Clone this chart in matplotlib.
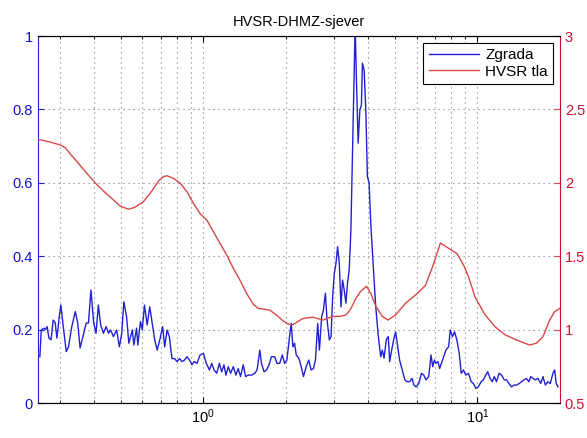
import numpy as np
import matplotlib
matplotlib.use('Agg')
import matplotlib.pyplot as plt
from matplotlib.ticker import LogLocator, NullFormatter

plt.rcParams['font.family'] = ['Liberation Sans', 'DejaVu Sans']

# Zgrada (building) spectral ratio, left axis
freq_zgrada = [0.254, 0.257, 0.263, 0.266, 0.270, 0.274, 0.279, 0.284, 0.289, 0.293,
               0.300, 0.303, 0.310, 0.317, 0.323, 0.332, 0.342, 0.349, 0.356, 0.367,
               0.375, 0.382, 0.390, 0.399, 0.407, 0.415, 0.423, 0.433, 0.443, 0.452,
               0.460, 0.471, 0.484, 0.495, 0.505, 0.514, 0.526, 0.536, 0.552, 0.559,
               0.572, 0.578, 0.591, 0.600, 0.611, 0.625, 0.639, 0.652, 0.666, 0.680,
               0.695, 0.712, 0.724, 0.739, 0.753, 0.770, 0.787, 0.803, 0.821, 0.837,
               0.856, 0.873, 0.892, 0.910, 0.928, 0.949, 0.975, 1.003, 1.025, 1.054,
               1.075, 1.096, 1.121, 1.146, 1.169, 1.191, 1.211, 1.235, 1.260, 1.288,
               1.317, 1.342, 1.369, 1.400, 1.428, 1.459, 1.501, 1.543, 1.573, 1.609,
               1.632, 1.668, 1.702, 1.739, 1.774, 1.824, 1.859, 1.901, 1.944, 1.982,
               2.020, 2.066, 2.096, 2.124, 2.154, 2.185, 2.233, 2.278, 2.322, 2.375,
               2.427, 2.476, 2.524, 2.567, 2.617, 2.654, 2.705, 2.744, 2.791, 2.830,
               2.885, 2.926, 2.966, 3.008, 3.051, 3.092, 3.136, 3.181, 3.223, 3.269,
               3.316, 3.360, 3.408, 3.457, 3.503, 3.553, 3.583, 3.622, 3.674, 3.727,
               3.777, 3.808, 3.864, 3.918, 3.971, 4.028, 4.085, 4.165, 4.259, 4.353,
               4.441, 4.501, 4.565, 4.653, 4.732, 4.787, 4.868, 4.962, 5.033, 5.100,
               5.203, 5.317, 5.438, 5.543, 5.655, 5.780, 5.862, 5.975, 6.111, 6.252,
               6.373, 6.496, 6.644, 6.773, 6.871, 6.968, 7.062, 7.181, 7.283, 7.387,
               7.530, 7.675, 7.851, 7.963, 8.117, 8.254, 8.414, 8.584, 8.728, 8.896,
               9.070, 9.277, 9.488, 9.672, 9.858, 10.08, 10.31, 10.51, 10.72, 10.90,
               11.12, 11.33, 11.52, 11.74, 11.99, 12.25, 12.53, 12.77, 13.03, 13.31,
               13.62, 13.88, 14.20, 14.47, 14.76, 15.09, 15.39, 15.65, 15.96, 16.26,
               16.63, 17.01, 17.34, 17.68, 18.08, 18.43, 18.85, 19.12, 19.38, 19.66]
amp_zgrada = [0.126, 0.199, 0.204, 0.200, 0.208, 0.177, 0.172, 0.226, 0.218, 0.177,
              0.245, 0.267, 0.200, 0.140, 0.153, 0.208, 0.249, 0.218, 0.150, 0.190,
              0.218, 0.218, 0.308, 0.218, 0.190, 0.267, 0.213, 0.190, 0.208, 0.190,
              0.199, 0.181, 0.199, 0.153, 0.190, 0.276, 0.235, 0.163, 0.199, 0.158,
              0.204, 0.158, 0.222, 0.199, 0.267, 0.213, 0.262, 0.218, 0.172, 0.144,
              0.172, 0.208, 0.153, 0.199, 0.181, 0.121, 0.121, 0.113, 0.121, 0.113,
              0.117, 0.126, 0.117, 0.104, 0.113, 0.108, 0.131, 0.135, 0.110, 0.090,
              0.108, 0.090, 0.081, 0.108, 0.085, 0.104, 0.076, 0.099, 0.081, 0.099,
              0.076, 0.094, 0.072, 0.104, 0.072, 0.076, 0.076, 0.081, 0.090, 0.144,
              0.108, 0.085, 0.090, 0.104, 0.126, 0.126, 0.108, 0.108, 0.131, 0.108,
              0.117, 0.181, 0.217, 0.153, 0.163, 0.131, 0.122, 0.099, 0.072, 0.099,
              0.117, 0.090, 0.094, 0.117, 0.217, 0.144, 0.235, 0.253, 0.299, 0.226,
              0.172, 0.181, 0.290, 0.353, 0.381, 0.426, 0.381, 0.262, 0.335, 0.308,
              0.272, 0.326, 0.362, 0.471, 0.671, 0.898, 1.030, 0.880, 0.708, 0.798,
              0.812, 0.926, 0.907, 0.798, 0.617, 0.599, 0.490, 0.381, 0.262, 0.181,
              0.126, 0.144, 0.122, 0.172, 0.181, 0.113, 0.144, 0.176, 0.194, 0.163,
              0.117, 0.090, 0.063, 0.058, 0.058, 0.067, 0.049, 0.044, 0.053, 0.081,
              0.076, 0.063, 0.072, 0.131, 0.099, 0.117, 0.108, 0.113, 0.094, 0.108,
              0.126, 0.144, 0.153, 0.199, 0.181, 0.194, 0.172, 0.135, 0.081, 0.090,
              0.076, 0.081, 0.058, 0.053, 0.040, 0.044, 0.058, 0.063, 0.076, 0.085,
              0.067, 0.058, 0.072, 0.058, 0.081, 0.076, 0.063, 0.063, 0.053, 0.044,
              0.049, 0.049, 0.053, 0.058, 0.063, 0.067, 0.058, 0.072, 0.067, 0.063,
              0.067, 0.053, 0.072, 0.049, 0.058, 0.053, 0.081, 0.090, 0.053, 0.044]

# HVSR tla (ground), right axis
freq_tlo = [0.25, 0.274, 0.302, 0.314, 0.328, 0.347, 0.377, 0.404, 0.433, 0.464,
            0.498, 0.534, 0.564, 0.605, 0.648, 0.685, 0.715, 0.739, 0.781, 0.825,
            0.873, 0.922, 0.975, 1.031, 1.090, 1.152, 1.219, 1.288, 1.361, 1.440,
            1.521, 1.586, 1.654, 1.749, 1.849, 1.954, 2.038, 2.124, 2.215, 2.309,
            2.509, 2.73, 2.97, 3.16, 3.32, 3.45, 3.60, 3.75, 3.94, 4.10,
            4.26, 4.50, 4.72, 5.03, 5.47, 5.95, 6.46, 6.93, 7.33, 7.85,
            8.41, 8.90, 9.28, 9.81, 10.67, 11.59, 12.60, 13.88, 14.89, 15.52,
            16.40, 17.34, 18.34, 19.12, 20.0]
hvsr_tlo = [2.296, 2.28, 2.257, 2.24, 2.196, 2.144, 2.064, 2.00, 1.944, 1.894,
            1.842, 1.82, 1.833, 1.871, 1.94, 2.008, 2.042, 2.048, 2.03, 1.997,
            1.94, 1.86, 1.79, 1.747, 1.667, 1.588, 1.508, 1.418, 1.338, 1.247,
            1.174, 1.145, 1.14, 1.133, 1.10, 1.06, 1.038, 1.033, 1.055, 1.075,
            1.085, 1.065, 1.09, 1.09, 1.10, 1.14, 1.21, 1.26, 1.295, 1.24,
            1.16, 1.09, 1.065, 1.10, 1.18, 1.236, 1.30, 1.45, 1.59, 1.554,
            1.52, 1.44, 1.36, 1.22, 1.10, 1.02, 0.965, 0.93, 0.907, 0.895,
            0.907, 0.952, 1.065, 1.122, 1.145]

blue = '#2020d4'
red = '#d84848'
blue_txt = '#1010d0'
red_txt = '#d0102e'

fig = plt.figure(figsize=(5.87, 4.38), dpi=100)
ax1 = fig.add_axes([0.0647, 0.0799, 0.8893, 0.8379])
ax2 = ax1.twinx()

l1, = ax1.semilogx(freq_zgrada, amp_zgrada, color=blue, lw=1.0, label='Zgrada')
l2, = ax2.semilogx(freq_tlo, hvsr_tlo, color=red, lw=1.0, label='HVSR tla')

ax1.set_xlim(0.25, 20)
ax1.set_ylim(0, 1)
ax2.set_ylim(0.5, 3)
ax1.set_yticks([0, 0.2, 0.4, 0.6, 0.8, 1])
ax1.set_yticklabels(['0', '0.2', '0.4', '0.6', '0.8', '1'])
ax2.set_yticks([0.5, 1, 1.5, 2, 2.5, 3])
ax2.set_yticklabels(['0.5', '1', '1.5', '2', '2.5', '3'])

ax1.xaxis.set_major_locator(LogLocator(base=10))
ax1.xaxis.set_minor_locator(LogLocator(base=10, subs=np.arange(2, 10)))
ax1.xaxis.set_minor_formatter(NullFormatter())

dots = (0, (1, 3.5))
ax1.grid(True, which='both', axis='x', linestyle=dots, color='#7a7a7a', lw=0.8)
ax1.grid(True, which='major', axis='y', linestyle=dots, color='#7a7a7a', lw=0.8)

ax1.tick_params(axis='x', which='both', direction='in', top=True, colors='black', labelsize=10.5)
ax1.tick_params(axis='x', which='major', length=4)
ax1.tick_params(axis='x', which='minor', length=2.5)
ax1.tick_params(axis='y', direction='in', colors=blue, labelcolor=blue_txt, labelsize=10.5, length=4)
ax2.tick_params(axis='y', direction='in', colors=red, labelcolor=red_txt, labelsize=10.5, length=4)

ax1.spines['left'].set_color(blue)
ax1.spines['right'].set_visible(False)
ax2.spines['left'].set_visible(False)
ax2.spines['right'].set_color(red_txt)
for a in (ax1, ax2):
    a.spines['top'].set_color('black')
    a.spines['bottom'].set_color('black')

ax1.set_title('HVSR-DHMZ-sjever', fontsize=10.5, pad=7)

leg = ax2.legend([l1, l2], ['Zgrada', 'HVSR tla'], loc='upper right', fontsize=11,
                 fancybox=False, framealpha=1, edgecolor='black', handlelength=3.3,
                 borderpad=0.35, labelspacing=0.15, handletextpad=0.4,
                 borderaxespad=0, bbox_to_anchor=(0.987, 0.981))
leg.get_frame().set_linewidth(0.8)

fig.savefig('out.png', dpi=100)
